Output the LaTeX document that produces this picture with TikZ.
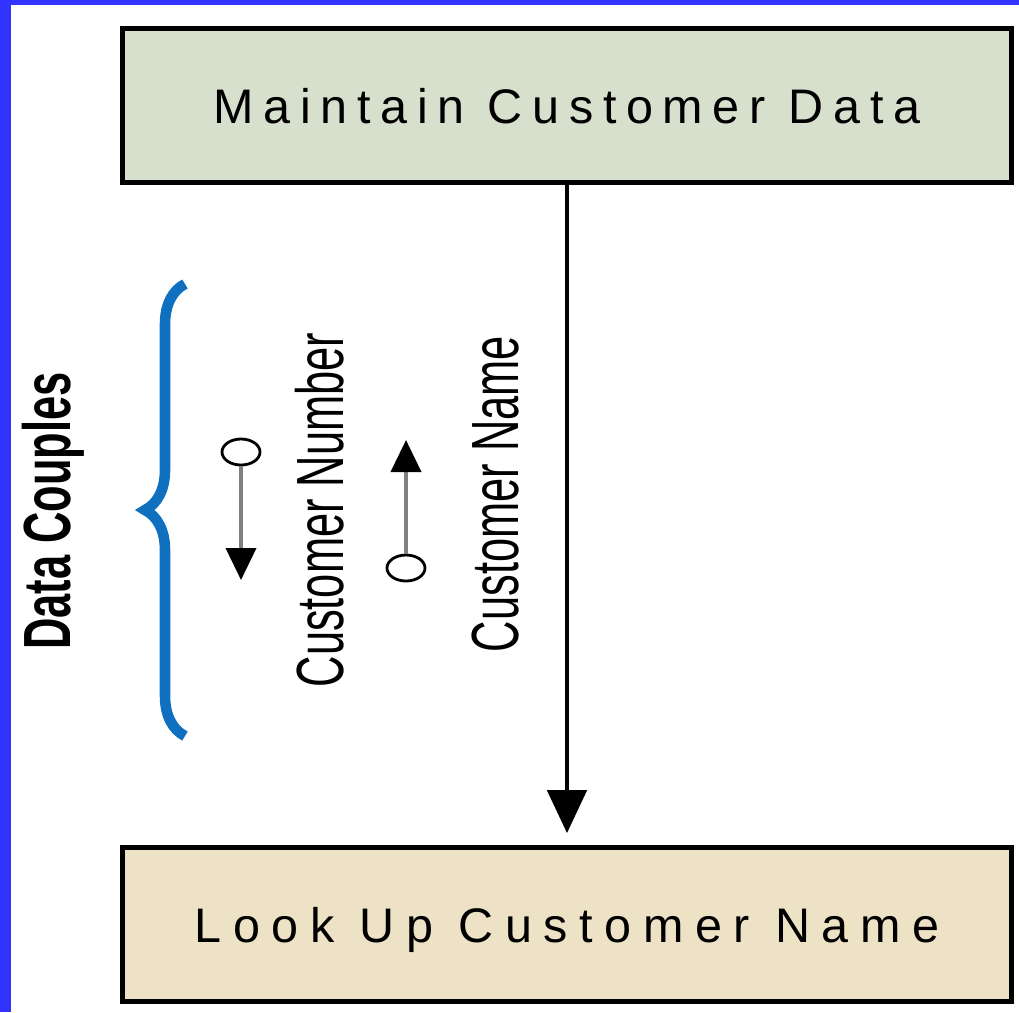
\documentclass[tikz,border=0pt]{standalone}
\usepackage{fontspec}
\setmainfont{Liberation Sans}
\newfontfamily\boxfont[LetterSpace=20]{Liberation Sans}
\newfontfamily\wideboxfont[LetterSpace=24]{Liberation Sans}
\newfontfamily\narrowfont[FakeStretch=0.65]{Liberation Sans}
\definecolor{frameblue}{RGB}{51,51,255}
\definecolor{braceblue}{RGB}{16,112,192}
\definecolor{maintfill}{RGB}{215,223,205}
\definecolor{lookfill}{RGB}{238,226,198}
\usetikzlibrary{arrows.meta,positioning,decorations.pathreplacing,shapes.geometric}

\begin{document}
\begin{tikzpicture}[
    module/.style={draw=black, line width=1.5pt, minimum width=8.89cm, minimum height=1.54cm,
        inner sep=0pt, font=\boxfont\fontsize{13.8}{16}\selectfont, text height=0.35cm, text depth=0pt},
    couple/.style={ellipse, draw=black, line width=0.8pt, fill=white,
        minimum width=0.38cm, minimum height=0.26cm, inner sep=0pt},
    couplearrow/.style={draw=gray, line width=1.1pt, -{Triangle[width=0.3cm,length=0.32cm,black]}},
    vlabel/.style={rotate=90, anchor=base, font=\narrowfont\fontsize{19}{22}\selectfont}
]
    \useasboundingbox (0,0) rectangle (10.19,-10.12);

    % Frame
    \fill[frameblue] (0,0) rectangle (0.11,-10.12);
    \fill[frameblue] (0,0) rectangle (10.19,-0.05);

    % Modules
    \node[module, fill=maintfill] (maint) at (5.67,-1.055) {Maintain Customer Data};
    \node[module, fill=lookfill, below=6.6cm of maint,
        font=\wideboxfont\fontsize{13.8}{16}\selectfont] (lookup) {Look Up Customer Name};
    \draw[line width=1.4pt, -{Triangle[width=0.39cm,length=0.43cm]}, shorten >=0.12cm] (maint) -- (lookup);

    % Data couples
    \node[couple] (numcirc) at (2.41,-4.52) {};
    \coordinate (numtip) at (2.41,-5.80);
    \draw[couplearrow] (numcirc.south) -- (numtip);
    \node[vlabel] (numlabel) at (3.43,-5.10) {Customer Number};

    \node[couple] (namecirc) at (4.06,-5.68) {};
    \coordinate (nametip) at (4.06,-4.40);
    \draw[couplearrow] (namecirc.north) -- (nametip);
    \node[vlabel] (namelabel) at (5.18,-4.94) {Customer Name};

    % Brace
    \draw[braceblue, line width=3pt, decorate, decoration={brace, amplitude=0.4cm}]
        (1.85,-7.36) -- (1.85,-2.84);
    \node[vlabel, font=\narrowfont\bfseries\fontsize{19}{22}\selectfont] (couplelabel) at (0.70,-5.11) {Data Couples};
\end{tikzpicture}
\end{document}
